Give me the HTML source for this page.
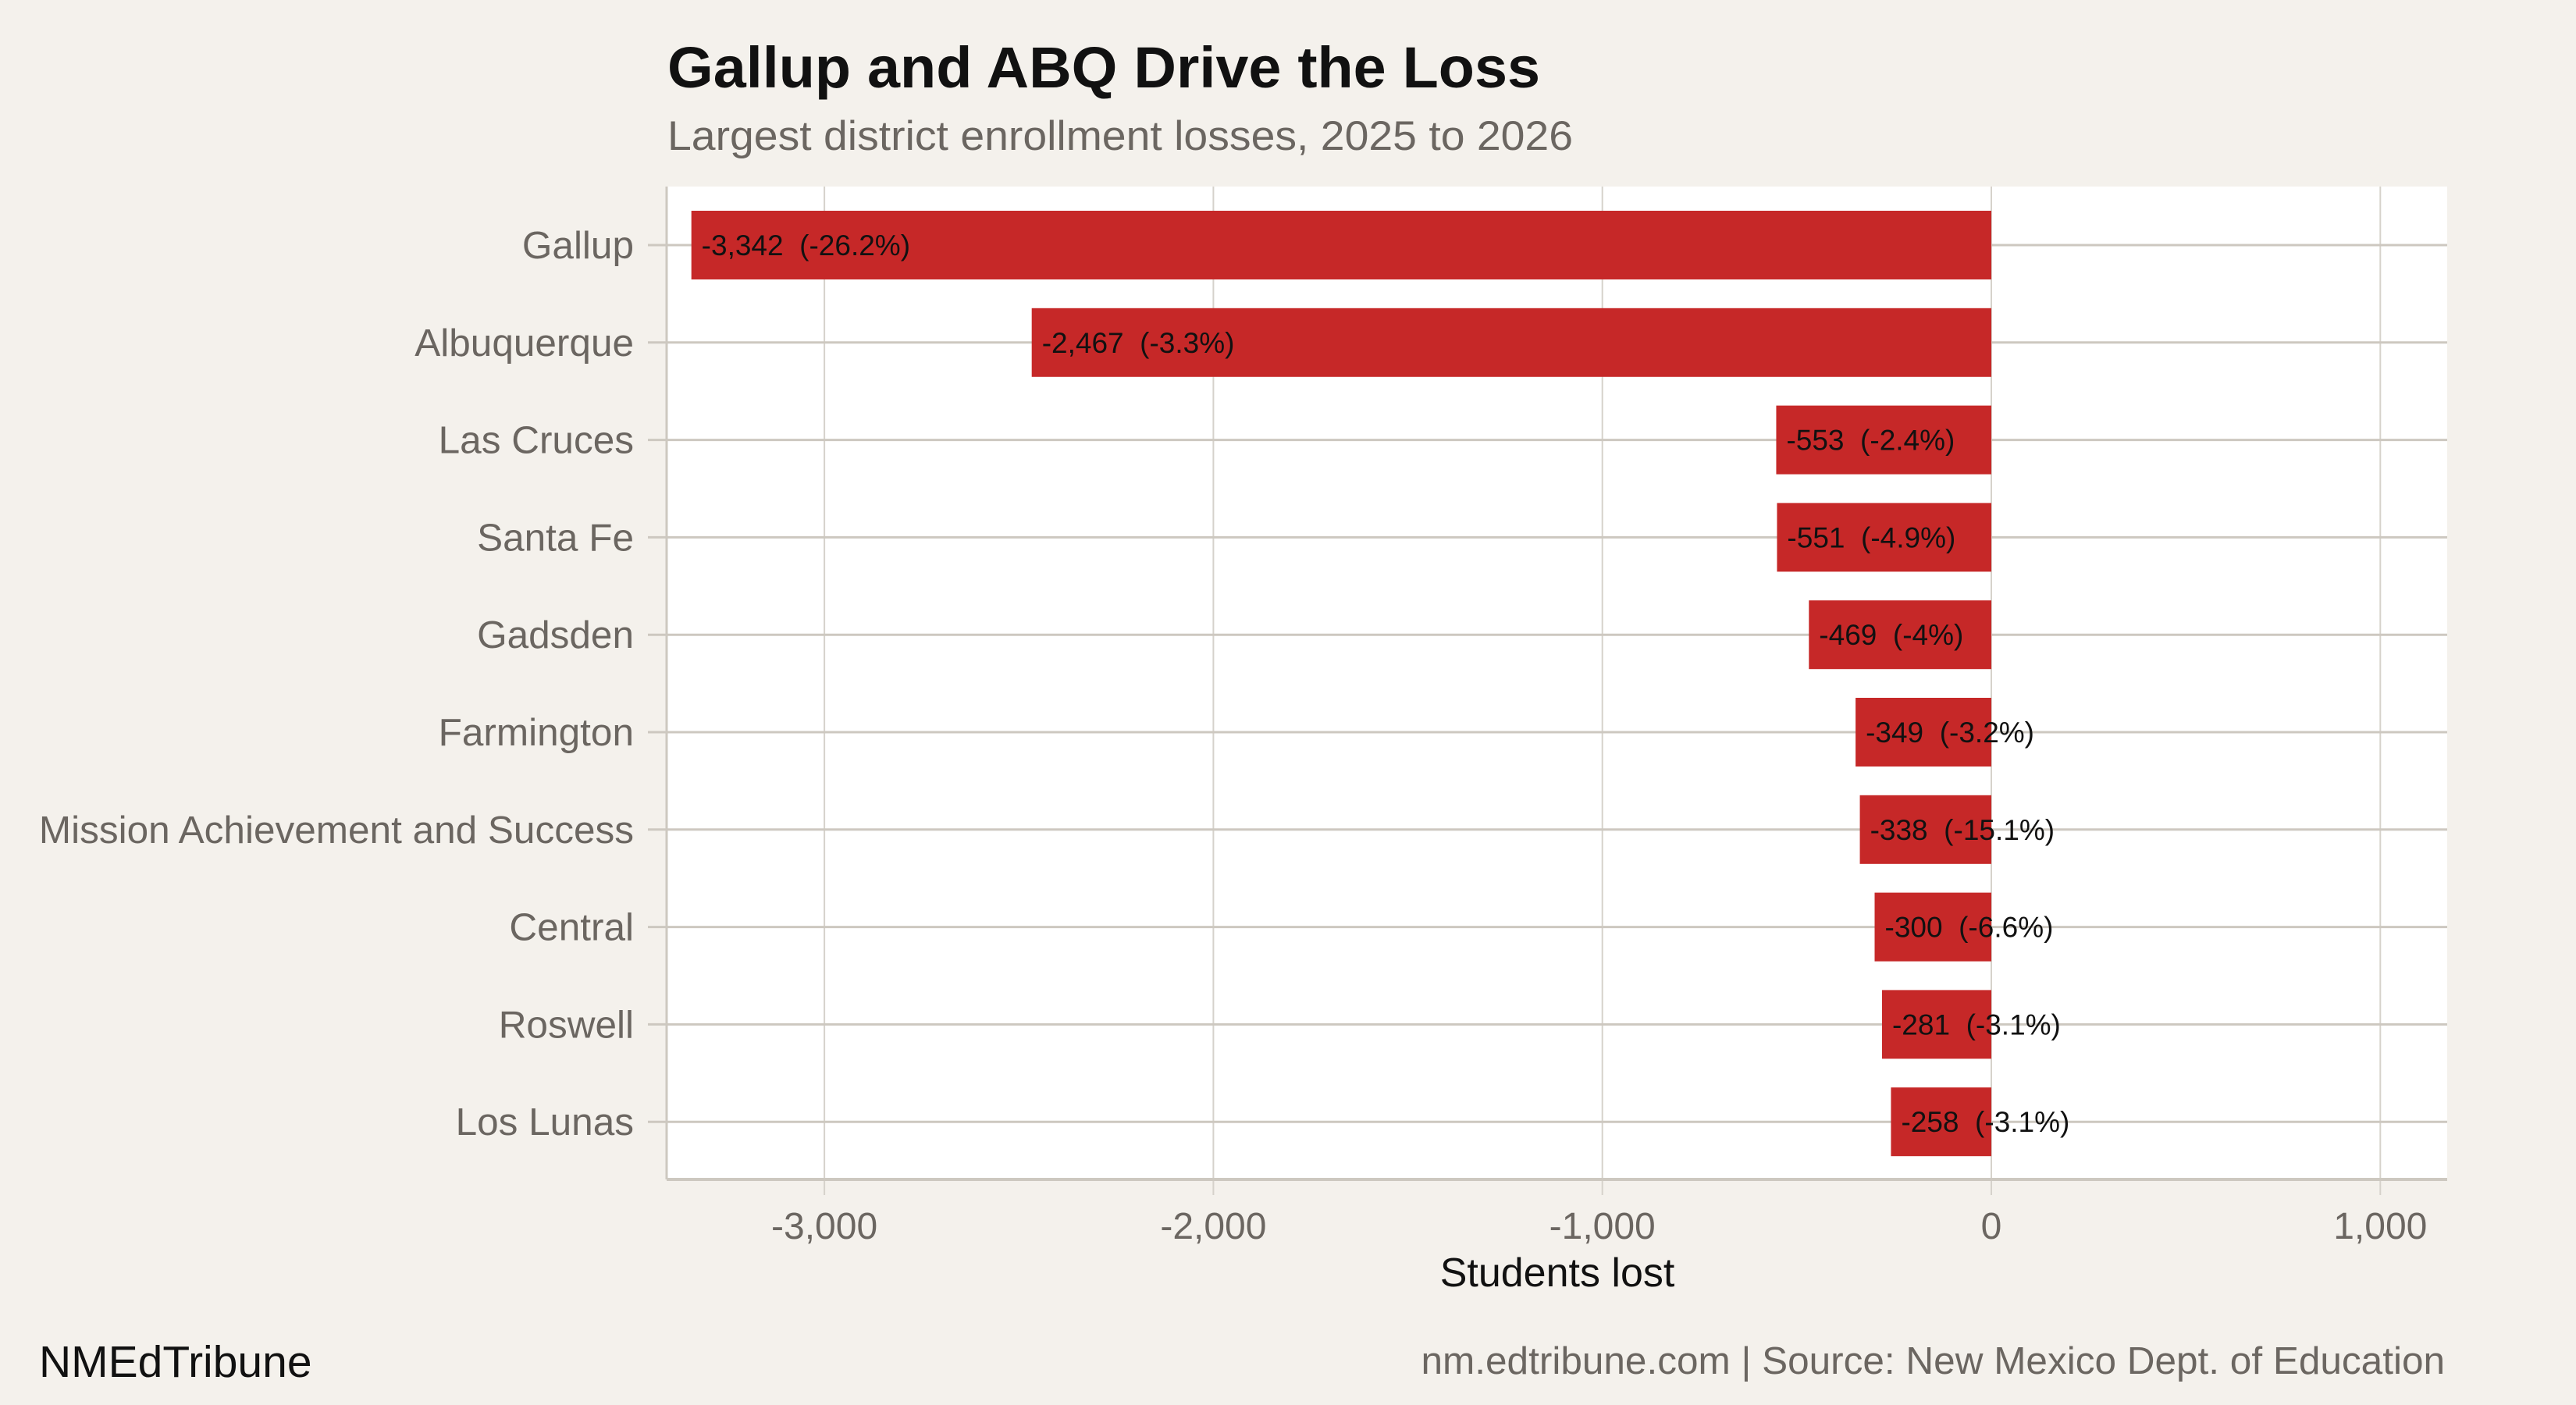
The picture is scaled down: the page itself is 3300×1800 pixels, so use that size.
<!DOCTYPE html>
<html><head><meta charset="utf-8"><style>
html,body{margin:0;padding:0;background:#f4f1ec;}
svg{display:block;font-family:"Liberation Sans",sans-serif;}
</style></head><body>
<svg id="chart" width="3300" height="1800" viewBox="0 0 3300 1800" xmlns="http://www.w3.org/2000/svg">
<rect width="3300" height="1800" fill="#f4f1ec"/>
<text x="855" y="112" font-size="74" font-weight="bold" fill="#111" textLength="1118" lengthAdjust="spacingAndGlyphs">Gallup and ABQ Drive the Loss</text>
<text x="855" y="192" font-size="53" fill="#6b6661" textLength="1160" lengthAdjust="spacingAndGlyphs">Largest district enrollment losses, 2025 to 2026</text>
<rect x="854" y="239" width="2281" height="1272" fill="#ffffff"/>
<g id="grid"></g>
<g id="bars"></g>
<g id="labels"></g>
<line x1="854" y1="239" x2="854" y2="1511" stroke="#cdc8c0" stroke-width="3"/>
<line x1="854" y1="1511" x2="3135" y2="1511" stroke="#cdc8c0" stroke-width="4"/>
<text x="1995" y="1648" font-size="52" fill="#111" text-anchor="middle">Students lost</text>
<text x="50" y="1764" font-size="57" fill="#111">NMEdTribune</text>
<text x="3132" y="1760" font-size="49.5" fill="#6b6661" text-anchor="end">nm.edtribune.com | Source: New Mexico Dept. of Education</text>
</svg>
<script>
const districts = ["Gallup","Albuquerque","Las Cruces","Santa Fe","Gadsden","Farmington","Mission Achievement and Success","Central","Roswell","Los Lunas"];
const studentsLost = [-3342,-2467,-553,-551,-469,-349,-338,-300,-281,-258];
const pctLost = ["-26.2%","-3.3%","-2.4%","-4.9%","-4%","-3.2%","-15.1%","-6.6%","-3.1%","-3.1%"];
const xTicks = [-3000,-2000,-1000,0,1000];
const xTickLabels = ["-3,000","-2,000","-1,000","0","1,000"];

const NS = "http://www.w3.org/2000/svg";
const x = v => 2551 + v * 0.4983;
const y = i => 314 + i * 124.8;
const barH = 88;
function mk(tag, attrs, parent){const e=document.createElementNS(NS,tag);for(const k in attrs)e.setAttribute(k,attrs[k]);parent.appendChild(e);return e;}
const grid=document.getElementById('grid'), bars=document.getElementById('bars'), labels=document.getElementById('labels');
const fmt = v => (v<0?"-":"")+Math.abs(v).toLocaleString('en-US');

xTicks.forEach((t,i)=>{
  const gl=mk('line',{x1:x(t),x2:x(t),y1:239,y2:1531,stroke:'#d6d2cb','stroke-width':2},grid);
  
  
  const tl=mk('text',{x:x(t),y:1587,'font-size':48,fill:'#6b6661','text-anchor':'middle'},grid);
  tl.textContent=xTickLabels[i];
  
  
});
districts.forEach((d,i)=>{
  const gl=mk('line',{x1:830,x2:3135,y1:y(i),y2:y(i),stroke:'#cdc8c0','stroke-width':3},grid);
  
  
  const yl=mk('text',{x:812,y:y(i)+17,'font-size':49.5,fill:'#6b6661','text-anchor':'end'},labels);
  yl.textContent=d;
  
  
  const v=studentsLost[i];
  const b=mk('rect',{x:Math.min(x(v),x(0)),y:y(i)-barH/2,width:Math.abs(x(v)-x(0)),height:barH,fill:'#c62828'},bars);
  
  
  const bl=mk('text',{x:x(v)+13,y:y(i)+13,'font-size':37,fill:'#111'},labels);
  bl.textContent=fmt(v)+"\u00a0\u00a0("+pctLost[i]+")";
  
  
});
</script>
</body></html>
